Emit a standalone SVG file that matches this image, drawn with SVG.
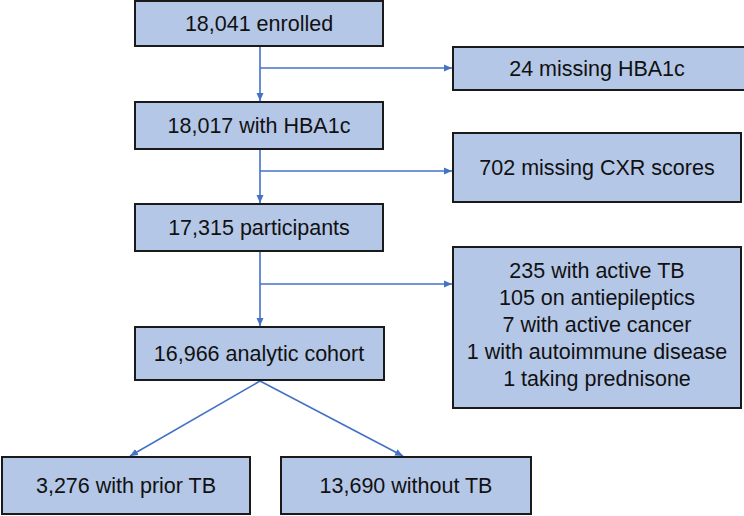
<svg xmlns="http://www.w3.org/2000/svg" width="744" height="516" viewBox="0 0 744 516">
<style>
.box{fill:#B4C7E7;stroke:#1a1a1a;stroke-width:2}
.t{font-family:"Liberation Sans",Arial,sans-serif;font-size:21.5px;fill:#111111;text-anchor:middle}
.c{fill:none;stroke:#4472C4;stroke-width:1.6}
</style>
<defs>
<marker id="ah" markerUnits="userSpaceOnUse" markerWidth="9" markerHeight="8" refX="8" refY="4" orient="auto">
<path d="M0,0.5 L8,4 L0,7.5 Z" fill="#4472C4"/>
</marker>
</defs>
<rect width="744" height="516" fill="#ffffff"/>
<g id="connectors">
<line class="c" x1="260" y1="47" x2="260" y2="101" marker-end="url(#ah)"/>
<line class="c" x1="260" y1="68" x2="452" y2="68" marker-end="url(#ah)"/>
<line class="c" x1="260" y1="150" x2="260" y2="203" marker-end="url(#ah)"/>
<line class="c" x1="260" y1="171" x2="452" y2="171" marker-end="url(#ah)"/>
<line class="c" x1="260" y1="252" x2="260" y2="326" marker-end="url(#ah)"/>
<line class="c" x1="260" y1="284" x2="452" y2="284" marker-end="url(#ah)"/>
<line class="c" x1="260" y1="381" x2="130" y2="456" marker-end="url(#ah)"/>
<line class="c" x1="260" y1="381" x2="403" y2="456" marker-end="url(#ah)"/>
</g>
<g id="n1"><rect class="box" x="135" y="1" width="248" height="45"/><text class="t" x="259" y="31">18,041 enrolled</text></g>
<g id="n2"><rect class="box" x="135" y="102" width="248" height="47"/><text class="t" x="259" y="133">18,017 with HBA1c</text></g>
<g id="n3"><rect class="box" x="135" y="204" width="248" height="47"/><text class="t" x="259" y="235">17,315 participants</text></g>
<g id="n4"><rect class="box" x="135" y="327" width="249" height="53"/><text class="t" x="259" y="361">16,966 analytic cohort</text></g>
<g id="r1"><rect class="box" x="453" y="47" width="300" height="43"/><text class="t" x="597" y="76">24 missing HBA1c</text></g>
<g id="r2"><rect class="box" x="453" y="133" width="288" height="69"/><text class="t" x="597" y="175">702 missing CXR scores</text></g>
<g id="r3"><rect class="box" x="453" y="247" width="288" height="161"/>
<text class="t" x="597" y="278">235 with active TB</text>
<text class="t" x="597" y="305">105 on antiepileptics</text>
<text class="t" x="597" y="332">7 with active cancer</text>
<text class="t" x="597" y="359">1 with autoimmune disease</text>
<text class="t" x="597" y="386">1 taking prednisone</text>
</g>
<g id="b1"><rect class="box" x="2" y="457" width="248" height="57"/><text class="t" x="126" y="493">3,276 with prior TB</text></g>
<g id="b2"><rect class="box" x="281" y="457" width="250" height="57"/><text class="t" x="406" y="493">13,690 without TB</text></g>
</svg>
